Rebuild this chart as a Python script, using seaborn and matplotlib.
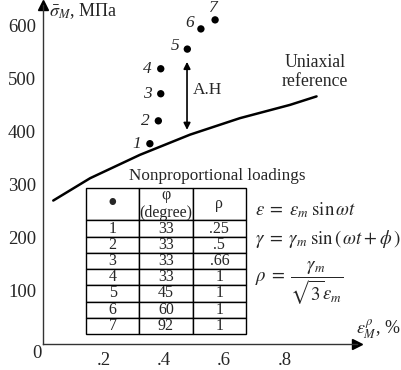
import matplotlib
matplotlib.use("Agg")
import matplotlib.pyplot as plt
import seaborn as sns

# values
strain_pts = [0.354, 0.382, 0.39, 0.39, 0.478, 0.523, 0.57]
stress_pts = [377, 420, 471, 518, 555, 593, 610]
point_labels = ["1", "2", "3", "4", "5", "6", "7"]

ref_strain = [0.034, 0.156, 0.321, 0.487, 0.652, 0.818, 0.906]
ref_stress = [270, 312, 356, 394, 425, 450, 466]

phi_deg = ["33", "33", "33", "33", "45", "60", "92"]
rho_vals = [".25", ".5", ".66", "1", "1", "1", "1"]

x_ticks = [0.2, 0.4, 0.6, 0.8]
x_tick_labels = [".2", ".4", ".6", ".8"]
y_ticks = [100, 200, 300, 400, 500, 600]

sns.set_style("white")
plt.rcParams["font.family"] = ["Liberation Serif", "DejaVu Serif"]
plt.rcParams["mathtext.fontset"] = "stix"

W, H = 402, 370
fig = plt.figure(figsize=(W / 100, H / 100), dpi=100)
ax = fig.add_axes([43 / W, 26 / H, 314 / W, 339 / H])
ax.set_xlim(0, 1.04)
ax.set_ylim(0, 638)

# uniaxial reference curve and the test points
sns.lineplot(x=ref_strain, y=ref_stress, ax=ax, color="black", lw=1.8, sort=False)
sns.scatterplot(x=strain_pts, y=stress_pts, ax=ax, color="black", s=28,
                edgecolor="none", zorder=5)

offsets = [(-13, 0), (-13, 0), (-13, 0), (-13, 0), (-12, 3), (-11, 6), (-2, 12)]
for xv, yv, lab, off in zip(strain_pts, stress_pts, point_labels, offsets):
    ax.annotate(lab, (xv, yv), xytext=off, textcoords="offset pixels",
                ha="center", va="center", style="italic", fontsize=12.5)

# axes with arrows
for side in ["top", "right"]:
    ax.spines[side].set_visible(False)
for side in ["left", "bottom"]:
    ax.spines[side].set_linewidth(1.0)
    ax.spines[side].set_color("#333333")
ax.plot(1, 0, ">", color="black", ms=7, transform=ax.transAxes, clip_on=False)
ax.plot(0, 1, "^", color="black", ms=7, transform=ax.transAxes, clip_on=False)

ax.set_xticks(x_ticks)
ax.set_xticklabels(x_tick_labels)
ax.set_yticks(y_ticks)
ax.tick_params(direction="inout", length=6, width=1, labelsize=13.5, pad=2)
ax.tick_params(axis="x", pad=3)
ax.set_xlabel("")
ax.set_ylabel("")

fig.text(37 / W, 1 - 353 / H, "0", ha="center", va="center", fontsize=13.5)
fig.text(49 / W, 1 - 11 / H, r"$\bar{\sigma}_M$, МПа", ha="left", va="center", fontsize=13)
fig.text(401 / W, 1 - 329 / H, r"$\varepsilon_M^\rho$, %", ha="right", va="center", fontsize=13)

# A.H arrow
ax.annotate("", xy=(0.477, 531), xytext=(0.477, 403),
            arrowprops=dict(arrowstyle="<|-|>", color="black", lw=1.2,
                            mutation_scale=10, shrinkA=0, shrinkB=0))
ax.text(0.495, 478, "A.H", ha="left", va="center", fontsize=12.5)
ax.text(0.9, 512, "Uniaxial\nreference", ha="center", va="center",
        fontsize=12.8, linespacing=1.2)

# table
fig.text(217 / W, 1 - 176 / H, "Nonproportional loadings", ha="center",
         va="center", fontsize=12.3)
cells = [[str(i + 1), p, r] for i, (p, r) in enumerate(zip(phi_deg, rho_vals))]
tab = ax.table(cellText=cells, colLabels=["•", "φ\n(degree)", "ρ"],
               cellLoc="center",
               bbox=[(86 - 43) / 314, (344 - 334) / 339, 160 / 314, 146 / 339])
tab.auto_set_font_size(False)
tab.set_fontsize(11.5)
for (r, c), cell in tab.get_celld().items():
    cell.set_linewidth(1.0)
    cell.set_height(2.0 if r == 0 else 1.0)
    cell.PAD = 0.02
tab[0, 0].get_text().set_fontsize(20)

# formulas
fig.text(255 / W, 1 - 210 / H, r"$\varepsilon\;=\;\varepsilon_m\;\sin\omega t$",
         ha="left", va="center", fontsize=13.5)
fig.text(255 / W, 1 - 239 / H,
         r"$\gamma\;=\;\gamma_m\;\sin\left(\,\omega t + \phi\,\right)$",
         ha="left", va="center", fontsize=13.5)
fig.text(255 / W, 1 - 283 / H, r"$\rho\;=\;\dfrac{\gamma_m}{\sqrt{3}\varepsilon_m}$",
         ha="left", va="center", fontsize=13.5)

fig.savefig("out.png", dpi=100)
